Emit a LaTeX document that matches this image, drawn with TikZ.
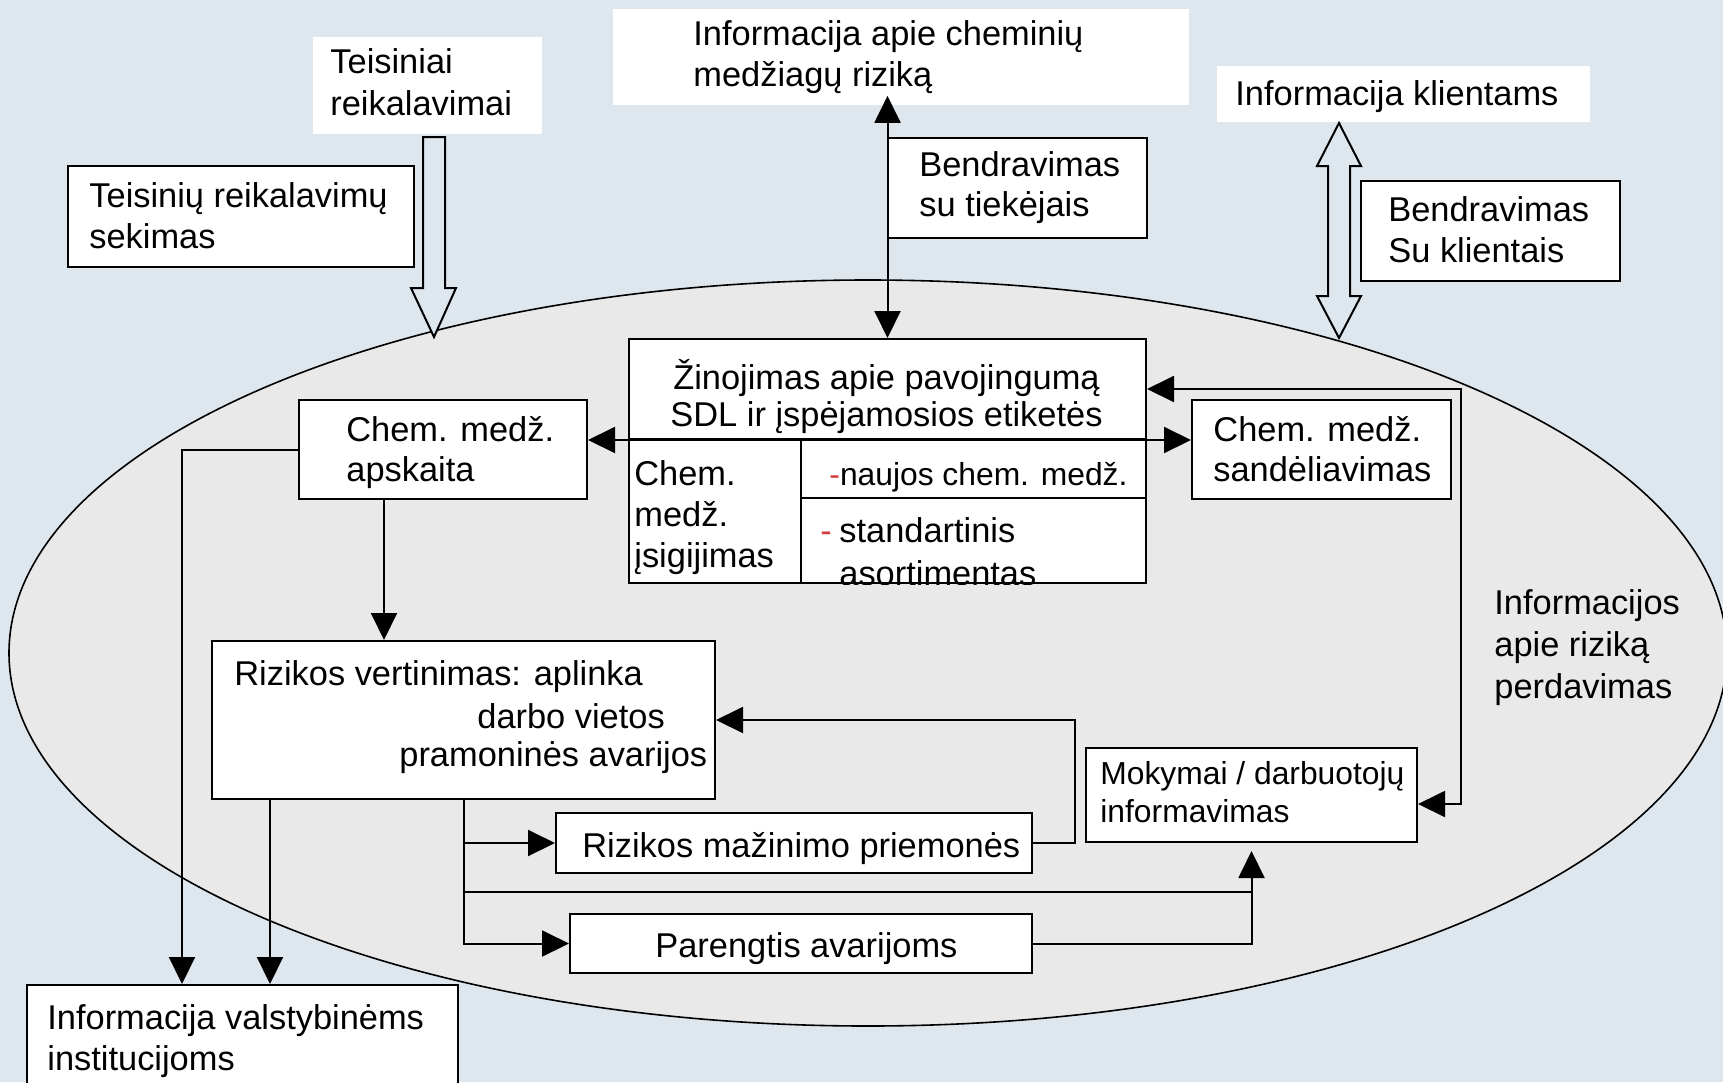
\documentclass[tikz,border=0pt]{standalone}
\usepackage{fontspec}
\setmainfont{Liberation Sans}
\usetikzlibrary{arrows.meta}
\definecolor{bg}{RGB}{222,230,238}
\definecolor{ellfill}{RGB}{233,233,233}
\definecolor{dashred}{RGB}{210,60,60}
\newcommand\fM[1]{\fontsize{17.2pt}{#1}\selectfont}
\newcommand\fS[1]{\fontsize{15.9pt}{#1}\selectfont}
\begin{document}
\begin{tikzpicture}[x=0.5pt,y=-0.5pt,
  >={Triangle[length=13.5pt,width=13pt]},
  bx/.style={draw=black, line width=1pt, fill=white, inner sep=0pt, anchor=north west},
  wbx/.style={fill=white, inner sep=0pt, anchor=north west},
  txt/.style={inner sep=0pt, anchor=base west, align=left, font=\fM{20pt}},
  conn/.style={line width=1pt},
  hollow/.style={draw=black, line width=1pt, fill=bg, line join=miter}]
\useasboundingbox (0,0) rectangle (1723,1082);
\fill[bg] (0,0) rectangle (1723,1082);
\filldraw[fill=ellfill, draw=black, line width=0.8pt] (868,653) ellipse [x radius=429.5pt, y radius=186.5pt];

% boxes
\node[wbx, minimum width=114.5pt, minimum height=48.5pt] (teis) at (313,37) {};
\node[bx, minimum width=173pt, minimum height=50.5pt] (sek) at (67,165) {};
\node[wbx, minimum width=288pt, minimum height=48pt] (chinfo) at (613,9) {};
\node[bx, minimum width=129.5pt, minimum height=50pt] (tiek) at (887,137) {};
\node[wbx, minimum width=186.5pt, minimum height=28pt] (kli) at (1217,66) {};
\node[bx, minimum width=129.5pt, minimum height=50pt] (bkl) at (1360,180) {};
\node[bx, minimum width=258.5pt, minimum height=50pt] (zinT) at (628,338) {};
\node[bx, minimum width=86pt, minimum height=72pt] (cellA) at (628,438) {};
\node[bx, minimum width=172.5pt, minimum height=29.5pt] (cellB) at (800,438) {};
\node[bx, minimum width=172.5pt, minimum height=42.5pt] (cellC) at (800,497) {};
\node[bx, minimum width=144pt, minimum height=49.5pt] (apsk) at (298,399) {};
\node[bx, minimum width=129.5pt, minimum height=49.5pt] (sand) at (1191,399) {};
\node[bx, minimum width=251.5pt, minimum height=79pt] (rz) at (211,640) {};
\node[bx, minimum width=238pt, minimum height=30pt] (mazin) at (555,812) {};
\node[bx, minimum width=231pt, minimum height=29.5pt] (pareng) at (569,913) {};
\node[bx, minimum width=165.5pt, minimum height=47pt] (mok) at (1085,747) {};
\node[bx, minimum width=215.5pt, minimum height=60pt] (valst) at (26,984) {};

% texts (anchor at the baseline of the last line)
\node[txt, font=\fM{21pt}] (tteis) at (330,115) {Teisiniai\\reikalavimai};
\node[txt, font=\fM{20.5pt}] (tsek) at (89,248) {Teisinių reikalavimų\\sekimas};
\node[txt, font=\fM{20.5pt}] (tchinfo) at (693,86) {Informacija apie cheminių\\medžiagų riziką};
\node[txt] (ttiek) at (919,216) {Bendravimas\\su tiekėjais};
\node[txt] (tkli) at (1235,105) {Informacija klientams};
\node[txt, font=\fM{20.5pt}] (tbkl) at (1388,262) {Bendravimas\\Su klientais};
\node[txt, anchor=base, align=center, font=\fM{18.5pt}] (tzin) at (886.5,426) {Žinojimas apie pavojingumą\\SDL ir įspėjamosios etiketės};
\node[txt, font=\fM{20.5pt}] (tcellA) at (634,567) {Chem.\\medž.\\įsigijimas};
\node[txt, font=\fS{19pt}] (tcellB) at (829,485) {\textcolor{dashred}{-}naujos chem. medž.};
\node[txt, text=dashred] (dashC) at (820,542) {-};
\begin{scope}
\clip (cellC.south west) rectangle (cellC.north east);
\node[txt, font=\fM{21.5pt}] (tcellC) at (839,585) {standartinis\\asortimentas};
\end{scope}
\node[txt] (tapsk) at (346,481) {Chem. medž.\\apskaita};
\node[txt] (tsand) at (1213,481) {Chem. medž.\\sandėliavimas};
\node[txt] (trz1) at (234,685) {Rizikos vertinimas: aplinka};
\node[txt] (trz2) at (477,728) {darbo vietos};
\node[txt] (trz3) at (399,766) {pramoninės avarijos};
\node[txt] (tmazin) at (582,857) {Rizikos mažinimo priemonės};
\node[txt] (tpareng) at (655,957) {Parengtis avarijoms};
\node[txt, font=\fS{19pt}] (tmok) at (1100,822) {Mokymai / darbuotojų\\informavimas};
\node[txt, font=\fM{21pt}] (tinfo) at (1494,698) {Informacijos\\apie riziką\\perdavimas};
\node[txt, font=\fM{20.5pt}] (tvalst) at (47,1070) {Informacija valstybinėms\\institucijoms};

% hollow arrows
\draw[hollow] (423,137) -- (445,137) -- (445,288) -- (456,288) -- (434,337) -- (411,288) -- (423,288) -- cycle;
\draw[hollow] (1339,123) -- (1361,166) -- (1350,166) -- (1350,296) -- (1361,296) -- (1339,338) -- (1317,296) -- (1328,296) -- (1328,166) -- (1317,166) -- cycle;

% connectors
\coordinate (chtip) at ([yshift=5pt]chinfo.south);
\draw[conn,<->] (chtip -| zinT.north) -- (zinT.north);
\draw[conn,<->] (apsk.east |- zinT.south) -- (sand.west |- zinT.south);
\coordinate (rc) at (1461,388);
\coordinate (mokin) at ([yshift=-4.5pt]mok.east);
\draw[conn,<->] (zinT.east) -- (zinT.east -| rc) |- (mokin);
\coordinate (a1) at ([xshift=-29.5pt]apsk.south);
\draw[conn,->] (a1) -- (a1 |- rz.north);
\coordinate (v1) at ([xshift=-30.25pt]valst.north);
\draw[conn,->] (apsk.west) -| (v1);
\coordinate (r1) at ([xshift=-96.75pt]rz.south);
\draw[conn,->] (r1) -- (r1 |- valst.north);
\draw[conn,->] (rz.south) |- (mazin.west);
\draw[conn,->] (rz.south) |- (pareng.west);
\coordinate (m1) at ([yshift=-4pt]mok.south);
\coordinate (j1) at (0,892);
\draw[conn] (rz.south) |- (m1 |- j1);
\draw[conn,->] (pareng.east) -| (m1);
\draw[conn,->] (mazin.east) -- ++(42,0) |- (rz.east);
\end{tikzpicture}
\end{document}
